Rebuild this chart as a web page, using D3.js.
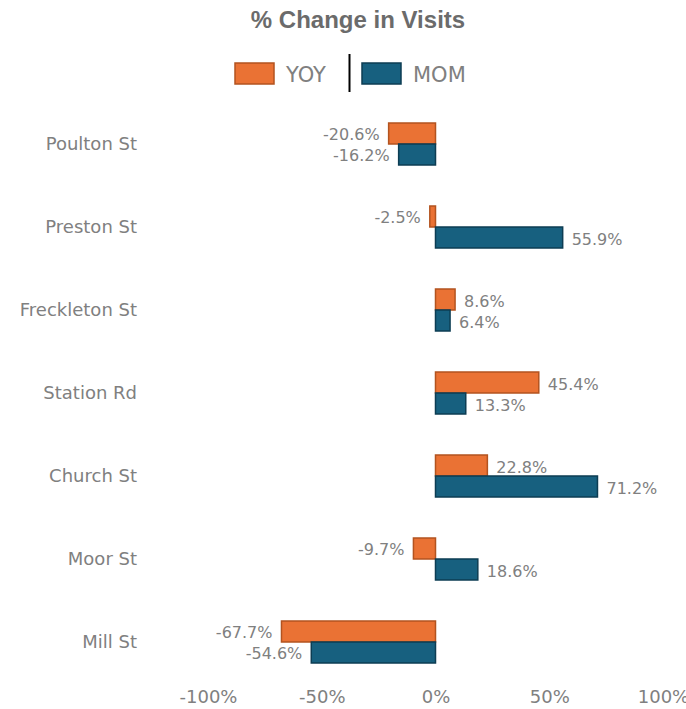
<!DOCTYPE html>
<html>
<head>
<meta charset="utf-8">
<script src="https://cdn.jsdelivr.net/npm/d3@7"></script>
<style>
  body { margin: 0; background: #fff; }
  text { font-family: "DejaVu Sans", sans-serif; fill: #808080; }
  .title { font-family: "Liberation Sans", Arial, sans-serif; font-weight: bold; fill: #6b6b6b; }
</style>
</head>
<body>
<div id="chart"></div>
<script>
const width = 686;
const height = 709;

const categories = ["Poulton St", "Preston St", "Freckleton St", "Station Rd", "Church St", "Moor St", "Mill St"];
const series = ["YOY", "MOM"];
const yoyValues = [-20.6, -2.5, 8.6, 45.4, 22.8, -9.7, -67.7];
const momValues = [-16.2, 55.9, 6.4, 13.3, 71.2, 18.6, -54.6];
const tickValues = [-100, -50, 0, 50, 100];

const fills = { YOY: "#ea7234", MOM: "#17607f" };
const strokes = { YOY: "#b3531f", MOM: "#0d3d53" };

const rows = categories.map((c, i) => ({ name: c, YOY: yoyValues[i], MOM: momValues[i] }));

const svg = d3.select("#chart")
  .append("svg")
  .attr("width", width)
  .attr("height", height);

// title
svg.append("text")
  .attr("class", "title")
  .attr("x", 358)
  .attr("y", 28)
  .attr("text-anchor", "middle")
  .style("font-size", "24px")
  .text("% Change in Visits");

// legend
const legend = svg.append("g");
const legendX = { YOY: 235, MOM: 362 };
series.forEach((s) => {
  legend.append("rect")
    .attr("x", legendX[s])
    .attr("y", 63)
    .attr("width", 39)
    .attr("height", 21)
    .attr("fill", fills[s])
    .attr("stroke", strokes[s])
    .attr("stroke-width", 1.5);
  legend.append("text")
    .attr("x", legendX[s] + 51)
    .attr("y", 82)
    .style("font-size", "21px")
    .text(s);
});
legend.append("line")
  .attr("x1", 349.5).attr("x2", 349.5)
  .attr("y1", 54).attr("y2", 92)
  .attr("stroke", "#000")
  .attr("stroke-width", 2);

// scales
const x = d3.scaleLinear().domain([-100, 100]).range([208, 663]);

const y = d3.scaleBand()
  .domain(categories)
  .range([82, 704])
  .padding(0.494);

const ySub = d3.scaleBand()
  .domain(series)
  .range([0, y.bandwidth()]);

// x axis
const xAxis = svg.append("g")
  .attr("transform", "translate(0,684)")
  .call(d3.axisBottom(x).tickValues(tickValues).tickSize(0).tickPadding(6)
    .tickFormat((d) => d + "%"));
xAxis.select(".domain").remove();
xAxis.selectAll("text")
  .attr("fill", null)
  .style("font-size", "18px")
  .style("font-family", "DejaVu Sans, sans-serif");

// category labels
svg.append("g")
  .selectAll("text")
  .data(categories)
  .join("text")
  .attr("x", 137)
  .attr("y", (d) => y(d) + y.bandwidth() / 2)
  .attr("dy", "0.35em")
  .attr("text-anchor", "end")
  .style("font-size", "18px")
  .text((d) => d);

// bars
const groups = svg.append("g")
  .selectAll("g")
  .data(rows)
  .join("g")
  .attr("transform", (d) => `translate(0,${y(d.name)})`);

const cells = groups.selectAll("g")
  .data((d) => series.map((s) => ({ key: s, value: d[s] })))
  .join("g");

cells.append("rect")
  .attr("x", (d) => x(Math.min(0, d.value)))
  .attr("y", (d) => ySub(d.key))
  .attr("width", (d) => Math.abs(x(d.value) - x(0)))
  .attr("height", ySub.bandwidth())
  .attr("fill", (d) => fills[d.key])
  .attr("stroke", (d) => strokes[d.key])
  .attr("stroke-width", 1.5);

cells.append("text")
  .attr("x", (d) => d.value < 0 ? x(d.value) - 9 : x(d.value) + 9)
  .attr("y", (d) => ySub(d.key) + ySub.bandwidth() / 2 + (d.value < 0 ? 0.5 : 2))
  .attr("dy", "0.35em")
  .attr("text-anchor", (d) => d.value < 0 ? "end" : "start")
  .style("font-size", "16px")
  .text((d) => d.value.toFixed(1) + "%");
</script>
</body>
</html>
